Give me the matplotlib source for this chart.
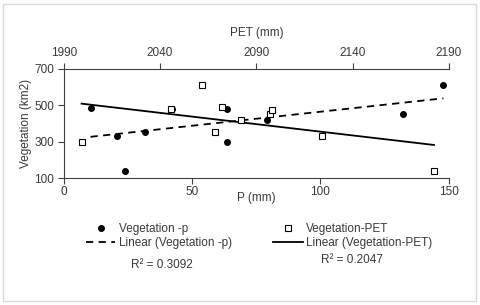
import numpy as np
import matplotlib.pyplot as plt
from matplotlib.lines import Line2D
from matplotlib.patches import Rectangle

plt.rcParams['font.family'] = ['Liberation Sans', 'DejaVu Sans']

# Vegetation vs precipitation (bottom axis)
p_mm = [10.4, 20.8, 23.8, 31.6, 42.1, 63.6, 63.6, 79.2, 132.2, 147.9]
veg_p = [488, 334, 138, 354, 479, 479, 299, 418, 455, 612]

# Vegetation vs PET (top axis)
pet_mm = [1999.2, 2045.6, 2062.0, 2068.6, 2072.1, 2082.0, 2097.0, 2098.0, 2124.2, 2182.3]
veg_pet = [299, 479, 612, 354, 492, 418, 451, 477, 332, 138]

r2_p = "R² = 0.3092"
r2_pet = "R² = 0.2047"

fs = 8.5
tc = '#3a3a3a'

fig = plt.figure(figsize=(4.8, 3.05), dpi=100)
ax = fig.add_axes([0.133, 0.416, 0.802, 0.358])
ax2 = ax.twiny()

# scatter points
ax.plot(p_mm, veg_p, 'o', color='black', markersize=4, zorder=3)
ax2.plot(pet_mm, veg_pet, 's', markerfacecolor='white', markeredgecolor='black',
         markersize=4.6, markeredgewidth=0.8, zorder=3)

# linear trend lines
cp = np.polyfit(p_mm, veg_p, 1)
xp = np.array([min(p_mm), max(p_mm)])
ax.plot(xp, np.polyval(cp, xp), '--', color='black', lw=1.3, dashes=(4, 3))
ce = np.polyfit(pet_mm, veg_pet, 1)
xe = np.array([min(pet_mm), max(pet_mm)])
ax2.plot(xe, np.polyval(ce, xe), '-', color='black', lw=1.3)

ax.set_xlim(0, 150)
ax.set_ylim(100, 700)
ax.set_xticks([0, 50, 100, 150])
ax.set_yticks([100, 300, 500, 700])
ax2.set_xlim(1990, 2190)
ax2.set_xticks([1990, 2040, 2090, 2140, 2190])

for a in (ax, ax2):
    a.spines['right'].set_visible(False)
    a.tick_params(labelsize=fs, color='#404040', length=4, width=0.8, labelcolor=tc, pad=3)
ax.tick_params(axis='x', pad=2)
ax.spines['top'].set_visible(False)
ax2.spines['bottom'].set_visible(False)
ax2.spines['left'].set_visible(False)
for s in ('left', 'bottom'):
    ax.spines[s].set_color('#404040')
ax2.spines['top'].set_color('#404040')

ax.set_xlabel('P (mm)', fontsize=fs, color=tc, labelpad=-5)
ax.set_ylabel('Vegetation (km2)', fontsize=fs, color=tc, labelpad=1.5)
ax2.set_xlabel('PET (mm)', fontsize=fs, color=tc, labelpad=8)

handles = [
    Line2D([], [], ls='none', marker='o', color='black', markersize=4),
    Line2D([], [], ls='--', color='black', lw=1.3, dashes=(4, 3)),
    Line2D([], [], ls='none', marker='s', markerfacecolor='white', markeredgecolor='black',
           markersize=4.6, markeredgewidth=0.8),
    Line2D([], [], ls='-', color='black', lw=1.3),
]
labels = ['Vegetation -p', 'Linear (Vegetation -p)', 'Vegetation-PET', 'Linear (Vegetation-PET)']
fig.legend(handles, labels, loc='center', bbox_to_anchor=(0.54, 0.226), ncol=2, frameon=False,
           fontsize=fs, handlelength=2.5, handletextpad=0.3, columnspacing=3.5,
           labelspacing=0.1, labelcolor=tc, borderpad=0)

fig.text(162 / 480, 1 - 265 / 305, r2_p, ha='center', va='center', fontsize=fs, color=tc)
fig.text(352 / 480, 1 - 260 / 305, r2_pet, ha='center', va='center', fontsize=fs, color=tc)

fig.patches.append(Rectangle((0.006, 0.012), 0.986, 0.976, transform=fig.transFigure,
                             fill=False, edgecolor='#d9d9d9', lw=1))

fig.savefig('out.png', dpi=100)
